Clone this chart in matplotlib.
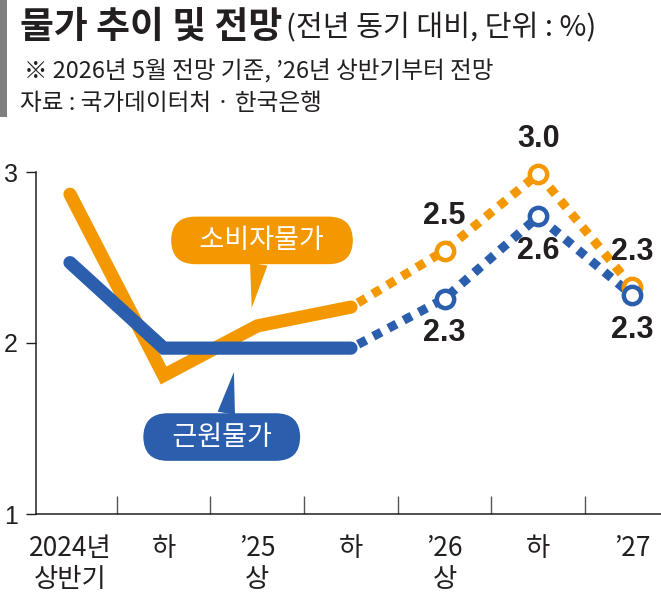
import matplotlib
matplotlib.use('Agg')
import matplotlib.pyplot as plt
from matplotlib.patches import Rectangle

plt.rcParams['font.family'] = ['Noto Sans CJK KR', 'DejaVu Sans']

# data
categories = ['2024년\n상반기', '하', '’25\n상', '하', '’26\n상', '하', '’27']
cpi = [2.87, 1.81, 2.10, 2.21, 2.54, 2.99, 2.33]
core = [2.47, 1.97, 1.97, 1.97, 2.26, 2.74, 2.28]
cpi_labels = ['2.5', '3.0', '2.3']
core_labels = ['2.3', '2.6', '2.3']
n_actual = 4  # first four half-years are actual, rest forecast

ORANGE = '#F39800'
BLUE = '#2B5FAE'
INK = '#231F20'
NUM_FONT = ['Liberation Sans Narrow', 'Liberation Sans', 'DejaVu Sans']
LBL_FONT = ['Liberation Sans Narrow', 'Noto Sans CJK KR', 'DejaVu Sans']

fig = plt.figure(figsize=(6.61, 5.96), dpi=100)
ax = fig.add_axes([36/661, 82/596, 625/661, 342/596])

x = list(range(len(categories)))

#plotting lines: solid for actual, dotted for forecast
for vals, col, z in [(cpi, ORANGE, 3), (core, BLUE, 4)]:
    ax.plot(x[:n_actual], vals[:n_actual], color=col, lw=9.5,
            solid_capstyle='round', solid_joinstyle='miter', zorder=z, clip_on=False)
    ax.plot(x[n_actual-1:], vals[n_actual-1:], color=col, lw=6.5,
            linestyle=(1.0, (1.0, 0.9)), dash_capstyle='butt', zorder=z, clip_on=False)
    ax.plot(x[n_actual:], vals[n_actual:], 'o', ms=12.5, mfc='white', mec=col,
            mew=3.2, zorder=z+2, clip_on=False)

#value labels for forecasts
for xi, v, s in zip(x[n_actual:], cpi[n_actual:], cpi_labels):
    ax.annotate(s, (xi, v), xytext=(0, 25), textcoords='offset points',
                ha='center', va='center', fontsize=22, fontweight='bold',
                family=NUM_FONT, color=INK, zorder=10)
for xi, v, s in zip(x[n_actual:], core[n_actual:], core_labels):
    ax.annotate(s, (xi, v), xytext=(0, -25), textcoords='offset points',
                ha='center', va='center', fontsize=22, fontweight='bold',
                family=NUM_FONT, color=INK, zorder=10)

#callout bubbles
ax.annotate('   소비자물가   ', xy=(1.94, 2.205), xytext=(2.05, 2.60),
            ha='center', va='center', fontsize=19.5, color='white', zorder=12,
            bbox=dict(boxstyle='round,pad=0.38,rounding_size=0.9', fc=ORANGE, ec='none'),
            arrowprops=dict(arrowstyle='wedge,tail_width=0.65', fc=ORANGE, ec='none',
                            relpos=(0.49, 0.0), shrinkA=0, shrinkB=0))
ax.annotate('   근원물가   ', xy=(1.75, 1.83), xytext=(1.62, 1.45),
            ha='center', va='center', fontsize=19.5, color='white', zorder=12,
            bbox=dict(boxstyle='round,pad=0.38,rounding_size=0.9', fc=BLUE, ec='none'),
            arrowprops=dict(arrowstyle='wedge,tail_width=0.65', fc=BLUE, ec='none',
                            relpos=(0.52, 1.0), shrinkA=0, shrinkB=0))

#axes styling
ax.set_xlim(-0.363, 6.31)
ax.set_ylim(1, 3)
for side in ['top', 'right']:
    ax.spines[side].set_visible(False)
for side in ['left', 'bottom']:
    ax.spines[side].set_color(INK)
    ax.spines[side].set_linewidth(1.1)

ax.set_yticks([1, 2, 3])
ax.set_yticklabels(['1', '2', '3'], fontsize=18, family=NUM_FONT, color=INK)
ax.tick_params(axis='y', direction='out', length=7, width=1, color=INK, pad=6)

ax.set_xticks(x)
ax.set_xticklabels(categories, fontsize=19, family=LBL_FONT, color=INK,
                   va='top', linespacing=1.2)
ax.set_xticks([i + 0.5 for i in x[:-1]], minor=True)
ax.tick_params(axis='x', which='major', length=0, pad=15)
ax.tick_params(axis='x', which='minor', direction='in', length=13, width=1, color='#555555')

#header
fig.patches.append(Rectangle((0, 1 - 117/596), 7/661, 117/596, transform=fig.transFigure,
                             fc='#7F7F7F', ec='none'))
fig.text(20/661, 1 - 27/596, '물가 추이 및 전망', fontsize=26.5, fontweight='bold',
         color=INK, va='center', ha='left')
fig.text(286/661, 1 - 28/596, '(전년 동기 대비, 단위 : %)', fontsize=21,
         color=INK, va='center', ha='left')
fig.text(24/661, 1 - 72/596, '※ 2026년 5월 전망 기준, ’26년 상반기부터 전망', fontsize=17,
         color=INK, va='center', ha='left', family=['Noto Sans CJK KR', 'DejaVu Sans'])
fig.text(20/661, 1 - 104/596, '자료 : 국가데이터처 · 한국은행', fontsize=17,
         color=INK, va='center', ha='left')

fig.savefig('out.png', dpi=100)
